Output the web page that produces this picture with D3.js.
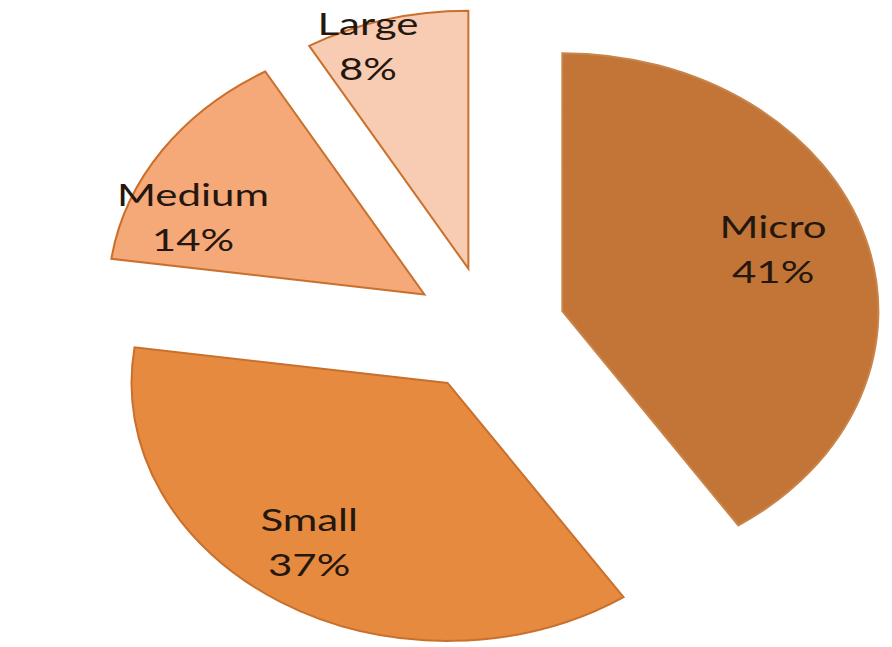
<!DOCTYPE html>
<html><head><meta charset="utf-8">
<script src="https://cdn.jsdelivr.net/npm/d3@7"></script>
<style>html,body{margin:0;padding:0;background:#fff;}svg{display:block;}</style>
</head><body>
<svg id="chart" width="892" height="647"></svg>
<script>
const categories = ["Micro", "Small", "Medium", "Large"];
const values = [40.6, 36.6, 14.4, 8.4];
const percentLabels = values.map(v => Math.round(v) + "%");
const fills = ["#C27536", "#E68A40", "#F5A878", "#F8CBB3"];
const strokes = ["#C9844A", "#C8702C", "#C8702C", "#C8702C"];
// label placement (layout): fraction of radius and angular shift (deg) from slice middle
const labelRadiusFrac = [0.708, 0.759, 0.791, 0.919];
const labelAngleShift = [-2.7, 3.2, -11.6, -5.1];

const W = 892, H = 647;
const cx = 488.5, cy = 329.5, R = 258, sx = 1.225, explode = 63;

const svg = d3.select("#chart");
const pie = d3.pie().sort(null).value(d => d)(values);
const arc = d3.arc().innerRadius(0).outerRadius(R);

const g = svg.append("g").attr("transform", `translate(${cx},${cy}) scale(${sx},1)`);

g.selectAll("path").data(pie).enter().append("path")
  .attr("d", arc)
  .attr("transform", d => {
    const a = (d.startAngle + d.endAngle) / 2;
    return `translate(${Math.sin(a) * explode},${-Math.cos(a) * explode})`;
  })
  .attr("fill", (d, i) => fills[i])
  .attr("stroke", (d, i) => strokes[i])
  .attr("stroke-width", 2)
  .attr("vector-effect", "non-scaling-stroke")
  .attr("stroke-linejoin", "miter");

const labels = svg.append("g");
pie.forEach((d, i) => {
  const a = (d.startAngle + d.endAngle) / 2;
  const ax = Math.sin(a) * explode, ay = -Math.cos(a) * explode;
  const la = a + labelAngleShift[i] * Math.PI / 180;
  const r = R * labelRadiusFrac[i];
  const x = cx + (ax + Math.sin(la) * r) * sx;
  const y = cy + ay - Math.cos(la) * r;
  const t = labels.append("g").attr("transform", `translate(${x},${y}) scale(1.4,1)`);
  t.append("text").attr("x", 0).attr("y", -11.5).attr("text-anchor", "middle")
    .attr("font-family", "Lato, 'Open Sans', sans-serif").attr("font-size", 30)
    .attr("fill", "#24170f").text(categories[i]);
  t.append("text").attr("x", 0).attr("y", 33.5).attr("text-anchor", "middle")
    .attr("font-family", "Lato, 'Open Sans', sans-serif").attr("font-size", 30)
    .attr("fill", "#24170f").text(percentLabels[i]);
});
</script>
</body></html>
